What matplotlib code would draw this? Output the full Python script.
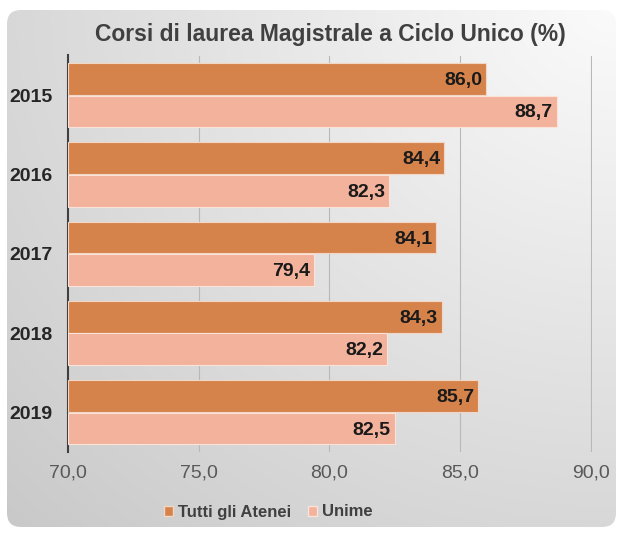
import numpy as np
import matplotlib
matplotlib.use("Agg")
import matplotlib.pyplot as plt
from matplotlib.patches import FancyBboxPatch, Patch

years = ["2015", "2016", "2017", "2018", "2019"]
tutti = [86.0, 84.4, 84.1, 84.3, 85.7]
unime = [88.7, 82.3, 79.4, 82.2, 82.5]
series_names = ["Tutti gli Atenei", "Unime"]
xticks = [70, 75, 80, 85, 90]
title = "Corsi di laurea Magistrale a Ciclo Unico (%)"

c_dark = "#D6834B"
c_light = "#F3B29B"

plt.rcParams['font.family'] = ['Liberation Sans', 'DejaVu Sans']

fig = plt.figure(figsize=(6.17, 5.34), dpi=100)
fig.patch.set_facecolor("white")

# background card with gradient
bg = fig.add_axes([0, 0, 1, 1], zorder=-10)
bg.set_xlim(0, 617); bg.set_ylim(534, 0); bg.axis("off")
yy, xx = np.mgrid[0:534, 0:617]
d = np.sqrt(((617 - xx) / 617.0) ** 2 + (yy / 534.0) ** 2) / np.sqrt(2)
val = 0.985 - 0.20 * d
img = np.dstack([val, val, val])
im = bg.imshow(img, extent=(0, 617, 534, 0), aspect="auto", interpolation="bilinear")
card = FancyBboxPatch((7, 10), 609, 517, boxstyle="round,pad=0,rounding_size=14",
                      transform=bg.transData, facecolor="none", edgecolor="none")
bg.add_patch(card)
im.set_clip_path(card)

ax = fig.add_axes([68 / 617, 1 - 452 / 534, (592 - 68) / 617, (452 - 55.5) / 534])
ax.patch.set_alpha(0)
y = np.arange(len(years))
h = 0.40
off = 0.205
ax.barh(y - off, [v - 70 for v in tutti], left=70, height=h, color=c_dark,
        edgecolor="#F2D7C6", linewidth=0.8, zorder=3)
ax.barh(y + off, [v - 70 for v in unime], left=70, height=h, color=c_light,
        edgecolor="#FBE3DA", linewidth=0.8, zorder=3)

for yi, v in zip(y, tutti):
    ax.text(v - 0.15, yi - off + 0.02, f"{v:.1f}".replace(".", ","), ha="right", va="center",
            fontsize=14, fontweight="bold", color="#1a1a1a", zorder=4)
for yi, v in zip(y, unime):
    ax.text(v - 0.15, yi + off + 0.02, f"{v:.1f}".replace(".", ","), ha="right", va="center",
            fontsize=14, fontweight="bold", color="#1a1a1a", zorder=4)

ax.set_xlim(70, 90.05)
ax.set_ylim(len(years) - 0.5, -0.5)
ax.set_xticks(xticks)
ax.set_xticklabels([f"{t:.1f}".replace(".", ",") for t in xticks], fontsize=14, color="#595959")
ax.set_yticks(y)
ax.set_yticklabels(years, fontsize=14, fontweight="bold", color="#262626")
ax.tick_params(axis="y", length=0, pad=11)
ax.tick_params(axis="x", length=0, pad=9)
for t in xticks[1:]:
    ax.axvline(t, color="#B8B8B8", linewidth=0.8, zorder=1)
for s in ["top", "right", "bottom"]:
    ax.spines[s].set_visible(False)
ax.spines["left"].set_color("#404040")
ax.spines["left"].set_linewidth(1.5)

fig.text(0.535, 1 - 35 / 534, title, ha="center", va="center", fontsize=16.5,
         fontweight="bold", color="#404040")

handles = [Patch(facecolor=c_dark, edgecolor="#F2D7C6"), Patch(facecolor=c_light, edgecolor="#FBE3DA")]
leg = fig.legend(handles, series_names, loc="center", bbox_to_anchor=(0.435, 1 - 512 / 534),
                 ncol=2, frameon=False, fontsize=12, handlelength=0.55, handleheight=0.55,
                 handletextpad=0.3, columnspacing=1.0)
for t in leg.get_texts():
    t.set_fontweight("bold")
    t.set_color("#404040")

fig.savefig("out.png", dpi=100)
